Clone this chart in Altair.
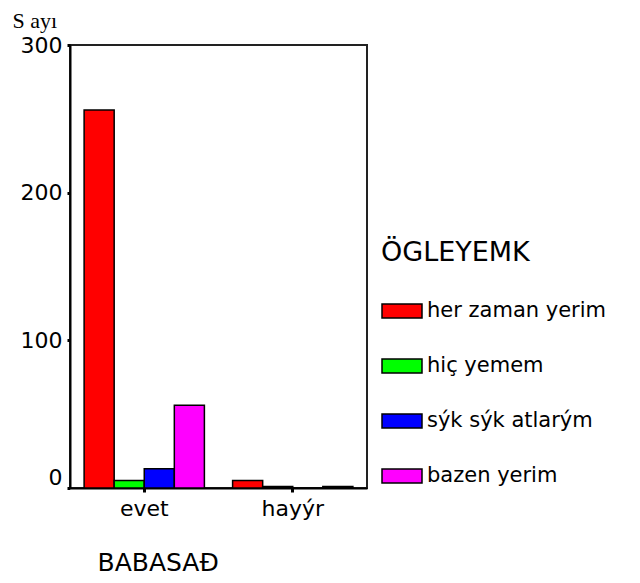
import altair as alt
import pandas as pd

categories = ["evet", "hayýr"]
series = ["her zaman yerim", "hiç yemem", "sýk sýk atlarým", "bazen yerim"]
colors = ["#FF0000", "#00FF00", "#0000FF", "#FF00FF"]
values_evet = [256, 5, 13, 56]
values_hayir = [5, 1, 0, 1]
y_ticks = [0, 100, 200, 300]

rows = []
for cat, vals in zip(categories, [values_evet, values_hayir]):
    for s, v in zip(series, vals):
        rows.append({"BABASAÐ": cat, "ÖGLEYEMK": s, "Sayı": v})
df = pd.DataFrame(rows)

FONT = "DejaVu Sans"

chart = alt.Chart(df).mark_bar(stroke="black", strokeWidth=1.5).encode(
    x=alt.X(
        "BABASAÐ:N",
        sort=categories,
        scale=alt.Scale(paddingInner=0.19, paddingOuter=0.095),
        axis=alt.Axis(
            title="BABASAÐ",
            titleFont=FONT,
            titleFontSize=25,
            titleFontWeight="normal",
            titleColor="black",
            titleAlign="left",
            titleAnchor="start",
            titleBaseline="middle",
            titleX=27,
            titleY=74,
            labelAngle=0,
            labelFont=FONT,
            labelFontSize=22,
            labelColor="black",
            labelPadding=6,
            tickSize=4,
            tickWidth=3,
            tickColor="black",
            domainColor="black",
            domainWidth=2,
        ),
    ),
    xOffset=alt.XOffset(
        "ÖGLEYEMK:N", sort=series, scale=alt.Scale(paddingInner=0, paddingOuter=0)
    ),
    y=alt.Y(
        "Sayı:Q",
        scale=alt.Scale(domain=[0, 300], nice=False),
        axis=alt.Axis(
            values=y_ticks,
            title="S ayı",
            titleFont="Liberation Serif",
            titleFontSize=22,
            titleFontWeight="normal",
            titleColor="black",
            titleAngle=0,
            titleAlign="left",
            titleBaseline="middle",
            titleX=-58,
            titleY=-25,
            grid=False,
            labelFont=FONT,
            labelFontSize=22,
            labelColor="black",
            labelPadding=5,
            labelOffset={"condition": {"test": "datum.value == 0", "value": -11}, "value": 0},
            tickSize=3,
            tickWidth=3,
            tickColor="black",
            domainColor="black",
            domainWidth=2,
        ),
    ),
    color=alt.Color(
        "ÖGLEYEMK:N",
        sort=series,
        scale=alt.Scale(domain=series, range=colors),
        legend=alt.Legend(
            title="ÖGLEYEMK",
            orient="none",
            legendX=311,
            legendY=195,
            titleFont=FONT,
            titleFontSize=27,
            titleFontWeight="normal",
            titleColor="black",
            titlePadding=23,
            labelFont=FONT,
            labelFontSize=21,
            labelColor="black",
            labelOffset=4,
            labelLimit=0,
            symbolType="M-1,-0.35H1V0.35H-1Z",
            symbolSize=1600,
            symbolStrokeColor="black",
            symbolStrokeWidth=1.5,
            symbolOpacity=1,
            rowPadding=24,
            padding=0,
        ),
    ),
).properties(
    width=297,
    height=443,
    autosize="none",
    padding={"left": 62, "top": 37, "right": 265, "bottom": 87},
).configure(
    background="white",
    view=alt.ViewConfig(stroke="#222", strokeWidth=2),
)

chart.save("out.html", embed_options={"renderer": "svg", "actions": False})
